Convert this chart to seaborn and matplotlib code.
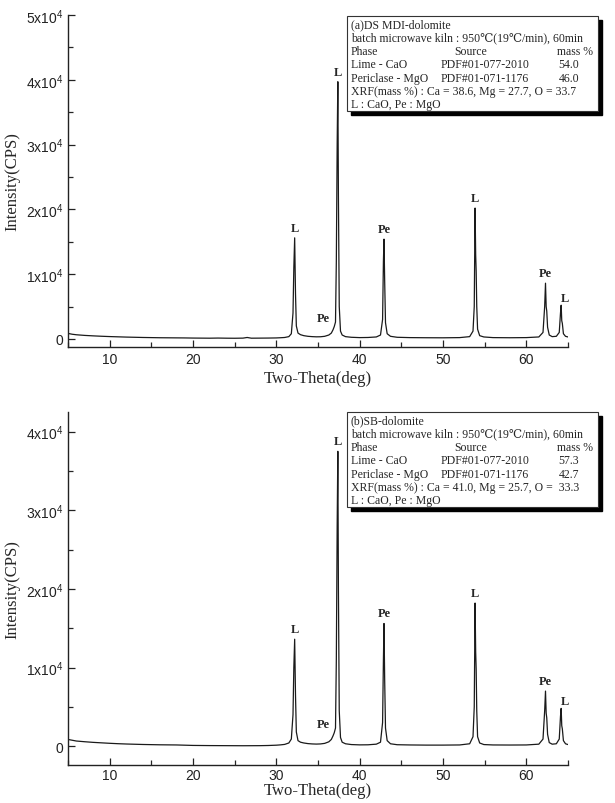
import numpy as np
import pandas as pd
import matplotlib
matplotlib.use("Agg")
import matplotlib.pyplot as plt
from matplotlib.patches import Rectangle
from matplotlib.ticker import MultipleLocator, FuncFormatter
import seaborn as sns

# === Données ===
# (a) DS MDI-dolomite
two_theta_a = [5.0, 5.5, 6.0, 7.0, 8.0, 9.0, 10.0, 11.0, 12.0, 13.0, 14.0, 15.0, 16.0, 17.0,
               18.0, 19.0, 20.0, 21.0, 22.0, 23.0, 24.0, 25.0, 26.0, 26.5, 27.0, 28.0, 29.0,
               30.0, 30.5, 31.0, 31.5, 31.8, 32.0, 32.1, 32.2, 32.3, 32.4, 32.6, 32.9, 33.3,
               33.8, 34.3, 34.8, 35.3, 35.8, 36.3, 36.6, 36.8, 36.95, 37.1, 37.2, 37.3, 37.38,
               37.45, 37.55, 37.7, 37.9, 38.3, 39.0, 40.0, 41.0, 42.0, 42.5, 42.75, 42.85,
               42.92, 43.0, 43.1, 43.3, 43.7, 44.5, 46.0, 48.0, 50.0, 52.0, 53.2, 53.6, 53.75,
               53.85, 53.92, 53.98, 54.05, 54.15, 54.4, 54.9, 56.0, 58.0, 60.0, 61.5, 62.0,
               62.2, 62.3, 62.38, 62.45, 62.55, 62.75, 63.1, 63.6, 63.95, 64.1, 64.18, 64.25,
               64.32, 64.45, 64.7, 65.0]
intensity_a = [850, 720, 640, 540, 470, 410, 360, 320, 280, 250, 220, 200, 180, 170,
               160, 150, 130, 120, 110, 130, 110, 100, 120, 220, 110, 120, 130,
               150, 180, 220, 350, 800, 4000, 11000, 15600, 7000, 2000, 900, 650, 500,
               400, 350, 320, 330, 400, 600, 900, 1400, 1900, 2600, 12000, 30000, 39700,
               22000, 5000, 1200, 600, 350, 250, 200, 220, 300, 600, 3000, 12000,
               15400, 9000, 2500, 800, 400, 250, 200, 180, 170, 200, 350, 1200, 5000,
               20200, 13000, 10500, 5000, 1500, 500, 300, 200, 180, 200, 300, 1000,
               5000, 8600, 5000, 4300, 1800, 600, 350, 400, 1000, 4000, 5200, 2800,
               2400, 800, 400, 300]

# (b) SB-dolomite
two_theta_b = [5.0, 5.5, 6.0, 7.0, 8.0, 9.0, 10.0, 11.0, 12.0, 13.0, 14.0, 15.0, 16.0, 17.0,
               18.0, 19.0, 20.0, 22.0, 24.0, 26.0, 28.0, 29.0, 30.0, 30.5, 31.0, 31.5,
               31.8, 32.0, 32.1, 32.2, 32.3, 32.4, 32.6, 32.9, 33.3, 33.8, 34.3, 34.8, 35.3,
               35.8, 36.3, 36.6, 36.8, 36.95, 37.1, 37.2, 37.3, 37.38, 37.45, 37.55, 37.7,
               37.9, 38.3, 39.0, 40.0, 41.0, 42.0, 42.5, 42.75, 42.85, 42.92, 43.0, 43.1,
               43.3, 43.7, 44.5, 46.0, 48.0, 50.0, 52.0, 53.2, 53.6, 53.75, 53.85, 53.92,
               53.98, 54.05, 54.15, 54.4, 54.9, 56.0, 58.0, 60.0, 61.5, 62.0, 62.2, 62.3,
               62.38, 62.45, 62.55, 62.75, 63.1, 63.6, 63.95, 64.1, 64.18, 64.25, 64.32,
               64.45, 64.7, 65.0]
intensity_b = [850, 750, 650, 560, 480, 420, 360, 310, 270, 240, 210, 190, 170, 160,
               150, 120, 90, 70, 60, 50, 60, 80, 120, 160, 220, 400,
               900, 4000, 10000, 13600, 6500, 1800, 700, 500, 400, 320, 280, 260, 280,
               350, 550, 850, 1300, 1700, 2300, 11000, 28000, 37500,
               20000, 4500, 1100, 500, 300, 200, 160, 170, 250, 500, 3000, 11000,
               15600, 8500, 2300, 700, 300, 180, 150, 130, 130, 150, 300, 1200, 5000,
               18200, 12000, 9800, 4500, 1200, 400, 200, 150, 140, 150, 250, 900,
               4500, 7000, 4200, 3600, 1500, 450, 250, 300, 900, 3800, 4800, 2600,
               2200, 700, 300, 200]

# pics indexés : position, hauteur, étiquette
peak_pos_a = [32.2, 36.95, 37.38, 42.92, 53.85, 62.3, 64.18]
peak_int_a = [15600, 1900, 39700, 15400, 20200, 8600, 5200]
peak_pos_b = [32.2, 36.95, 37.38, 42.92, 53.85, 62.3, 64.18]
peak_int_b = [13600, 1700, 37500, 15600, 18200, 7000, 4800]
peak_lab = ["L", "Pe", "L", "Pe", "L", "Pe", "L"]
lab_offset = [(0, 3), (-8, 2), (0, 3), (0, 3), (0, 3), (0, 3), (3, 1)]

info_a = ["(a)DS MDI-dolomite", "54.0", "46.0", "XRF(mass %) : Ca = 38.6, Mg = 27.7, O = 33.7"]
info_b = ["(b)SB-dolomite", "57.3", "42.7", "XRF(mass %) : Ca = 41.0, Mg = 25.7, O =  33.3"]

df_a = pd.DataFrame({"two_theta": two_theta_a, "intensity": intensity_a})
df_b = pd.DataFrame({"two_theta": two_theta_b, "intensity": intensity_b})

# === Style ===
sns.set_style("ticks")
plt.rcParams["font.family"] = ["Liberation Sans", "DejaVu Sans"]
plt.rcParams["mathtext.fontset"] = "custom"
plt.rcParams["mathtext.rm"] = "Liberation Sans"
plt.rcParams["mathtext.it"] = "Liberation Sans"
plt.rcParams["mathtext.bf"] = "Liberation Sans"
serif = ["Liberation Serif", "DejaVu Serif"]

W, H = 615, 804
fig = plt.figure(figsize=(W / 100, H / 100), dpi=100)


def px_box(x0, y0, x1, y1):
    # pixels (origine en haut à gauche) -> fraction de figure
    return [x0 / W, 1 - y1 / H, (x1 - x0) / W, (y1 - y0) / H]


def yfmt(v, pos):
    if abs(v) < 1:
        return "0"
    return r"$\mathregular{%dx10^{4}}$" % round(v / 1e4)


def draw_panel(ax, df, peak_pos, peak_int, ylim, yticks_max, xpad):
    sns.lineplot(data=df, x="two_theta", y="intensity", ax=ax, color="#1a1a1a",
                 linewidth=0.9, estimator=None, sort=False)
    ax.set_xlim(5, 65)
    ax.set_ylim(*ylim)
    ax.xaxis.set_major_locator(MultipleLocator(10))
    ax.xaxis.set_minor_locator(MultipleLocator(5))
    ax.set_yticks(np.arange(0, yticks_max + 1, 10000))
    ax.yaxis.set_minor_locator(MultipleLocator(5000))
    ax.yaxis.set_major_formatter(FuncFormatter(yfmt))
    ax.tick_params(which="major", direction="in", length=5, width=0.9, labelsize=10,
                   colors="#222222")
    ax.tick_params(which="minor", direction="in", length=3.5, width=0.9)
    for side in ["top", "right"]:
        ax.spines[side].set_visible(False)
    for side in ["left", "bottom"]:
        ax.spines[side].set_linewidth(1.0)
        ax.spines[side].set_color("#222222")
    ax.set_xlabel("Two-Theta(deg)", family=serif, fontsize=12, labelpad=xpad)
    ax.set_ylabel("Intensity(CPS)", family=serif, fontsize=12, labelpad=4)
    for x, y, t, off in zip(peak_pos, peak_int, peak_lab, lab_offset):
        ax.annotate(t, (x, y), xytext=off, textcoords="offset points", ha="center",
                    va="bottom", family=serif, fontweight="bold", fontsize=9)


def draw_box(y0, info):
    x0, x1, y1 = 347, 598, y0 + 95
    s = px_box(x0 + 4, y0 + 4, x1 + 4, y1 + 4)
    fig.patches.append(Rectangle((s[0], s[1]), s[2], s[3], transform=fig.transFigure,
                                 facecolor="black", edgecolor="black", zorder=5))
    b = px_box(x0, y0, x1, y1)
    fig.patches.append(Rectangle((b[0], b[1]), b[2], b[3], transform=fig.transFigure,
                                 facecolor="white", edgecolor="#333333", linewidth=0.8,
                                 zorder=6))
    step = 13.4
    ly = [y0 + 8 + i * step for i in range(7)]
    kw = dict(family=serif, fontsize=8.5, va="center", zorder=7)
    fy = lambda y: 1 - y / H
    fig.text(351 / W, fy(ly[0]), info[0], **kw)
    fig.text(351 / W, fy(ly[1]), "batch microwave kiln : 950\u2103(19\u2103/min), 60min", **kw)
    fig.text(351 / W, fy(ly[2]), "Phase", **kw)
    fig.text(471 / W, fy(ly[2]), "Source", ha="center", **kw)
    fig.text(575 / W, fy(ly[2]), "mass %", ha="center", **kw)
    fig.text(351 / W, fy(ly[3]), "Lime - CaO", **kw)
    fig.text(485 / W, fy(ly[3]), "PDF#01-077-2010", ha="center", **kw)
    fig.text(569 / W, fy(ly[3]), info[1], ha="center", **kw)
    fig.text(351 / W, fy(ly[4]), "Periclase - MgO", **kw)
    fig.text(485 / W, fy(ly[4]), "PDF#01-071-1176", ha="center", **kw)
    fig.text(569 / W, fy(ly[4]), info[2], ha="center", **kw)
    fig.text(351 / W, fy(ly[5]), info[3], **kw)
    fig.text(351 / W, fy(ly[6]), "L : CaO, Pe : MgO", **kw)


ax1 = fig.add_axes(px_box(68, 16, 568, 348))
draw_panel(ax1, df_a, peak_pos_a, peak_int_a, (-1250, 50000), 50000, 3)
ax2 = fig.add_axes(px_box(68, 413, 568, 766))
draw_panel(ax2, df_b, peak_pos_b, peak_int_b, (-2400, 42500), 40000, 0)
ax2.tick_params(axis="x", pad=2.5)

draw_box(17, info_a)
draw_box(413, info_b)

fig.savefig("out.png", dpi=100)
